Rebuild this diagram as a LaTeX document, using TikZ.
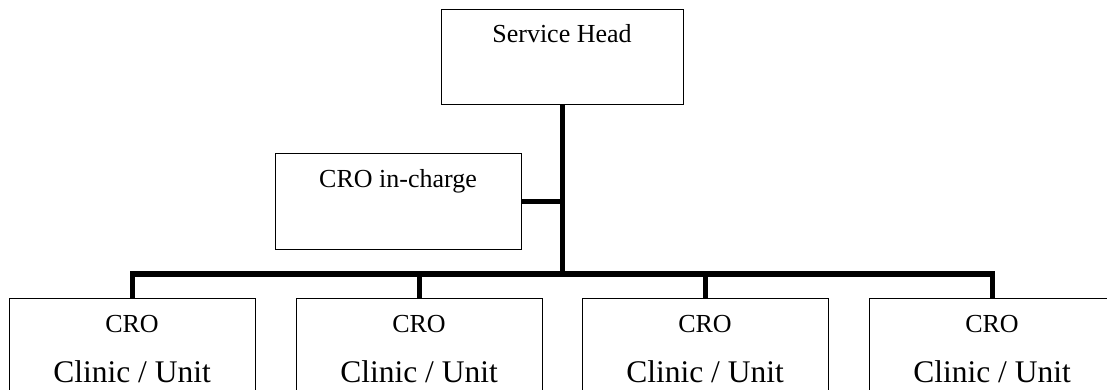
\documentclass[tikz,border=0pt]{standalone}
\usepackage{fontspec}
\setmainfont{Liberation Serif}
\begin{document}
\begin{tikzpicture}[x=1pt,y=-1pt,
  box/.style={draw=black,line width=1.3pt,minimum width=246pt,minimum height=96pt,inner sep=0pt,anchor=north west},
  conn/.style={draw=black,line width=5.5pt,line join=miter},
  lbl/.style={anchor=base,inner sep=0pt,font=\fontsize{26}{30}\selectfont},
  big/.style={anchor=base,inner sep=0pt,font=\fontsize{31.5}{36}\selectfont}]
\useasboundingbox (0,0) rectangle (1107,390);
\clip (0,0) rectangle (1107,390);
\fill[white] (0,0) rectangle (1107,390);
% boxes
\node[box,minimum width=242pt,minimum height=95pt] (head) at (441,9) {};
\node[box] (incharge) at (275,153) {};
\node[box,minimum height=110pt] (u1) at (9,298) {};
\node[box,minimum height=110pt] (u2) at (296,298) {};
\node[box,minimum height=110pt] (u3) at (582,298) {};
\node[box,minimum height=110pt] (u4) at (869,298) {};
% texts
\node[lbl] (headtxt) at (562,43) {Service Head};
\node[lbl] (inchargetxt) at (398,187) {CRO in-charge};
\foreach \c/\n in {132/1,419/2,705/3,992/4}{
  \node[lbl] (cro\n) at (\c,332) {CRO};
  \node[big] (clinic\n) at (\c,382) {Clinic / Unit};
}
% connectors
\coordinate (bar) at (562,274);
\draw[conn] (head.south) -- (head.south |- bar);
\draw[conn] (incharge.east) -- (incharge.east -| head.south);
\draw[conn] (u1.north) -- (u1.north |- bar) -- (u4.north |- bar) -- (u4.north);
\draw[conn] (u2.north |- bar) -- (u2.north);
\draw[conn] (u3.north |- bar) -- (u3.north);
\end{tikzpicture}
\end{document}
